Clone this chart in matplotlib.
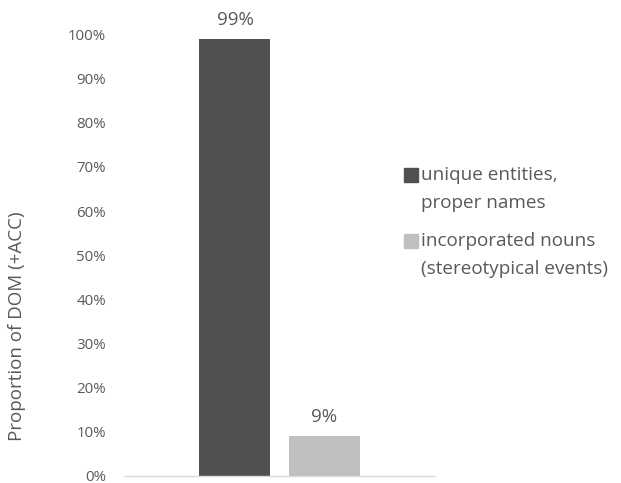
import matplotlib
matplotlib.use("Agg")
import matplotlib.pyplot as plt
from matplotlib.patches import Rectangle
import numpy as np

categories = ["unique entities,\nproper names", "incorporated nouns\n(stereotypical events)"]
values = [0.99, 0.09]
value_labels = ["99%", "9%"]
colors = ["#505052", "#bfbfbf"]
yticks = [0.0, 0.1, 0.2, 0.3, 0.4, 0.5, 0.6, 0.7, 0.8, 0.9, 1.0]
ytick_labels = ["0%", "10%", "20%", "30%", "40%", "50%", "60%", "70%", "80%", "90%", "100%"]
ylabel = "Proportion of DOM (+ACC)"

plt.rcParams['font.family'] = ['Open Sans', 'DejaVu Sans']
txt = "#595959"

W, H = 621, 483
fig = plt.figure(figsize=(W / 100, H / 100), dpi=100)
ax = fig.add_axes([124 / W, 1 - 475.7 / H, (435 - 124) / W, (475.7 - 34.6) / H])

offsets = [-0.2865, 0.2865]
width = 0.457
for off, v, c, lab in zip(offsets, values, colors, value_labels):
    ax.bar(off, v, width=width, color=c, zorder=2)
    ax.annotate(lab, (off, v), xytext=(0, 10), textcoords="offset points",
                ha="center", va="baseline", fontsize=13.5, color=txt)

ax.set_xlim(-1, 1)
ax.set_ylim(0, 1)
ax.set_yticks(yticks)
ax.set_yticklabels(ytick_labels, fontsize=10.8, color=txt)
ax.set_xticks([])
ax.tick_params(axis="y", length=0, pad=13)
for s in ["top", "right", "left"]:
    ax.spines[s].set_visible(False)
ax.spines["bottom"].set_color("#d9d9d9")
ax.spines["bottom"].set_linewidth(1.0)

fig.text(17 / W, 1 - 326 / H, ylabel, rotation=90, ha="center", va="center",
         fontsize=13.5, color=txt)

# legend
leg_y = [175, 241]
line_gap = 28
for y, c, lab in zip(leg_y, colors, categories):
    fig.patches.append(Rectangle((404 / W, 1 - (y + 7) / H), 14 / W, 14 / H,
                                 transform=fig.transFigure, color=c, figure=fig))
    for i, line in enumerate(lab.split("\n")):
        fig.text(421 / W, 1 - (y + 4.5 + i * line_gap) / H, line, ha="left",
                 va="baseline", fontsize=13.6, color=txt)

fig.savefig("out.png", dpi=100)
